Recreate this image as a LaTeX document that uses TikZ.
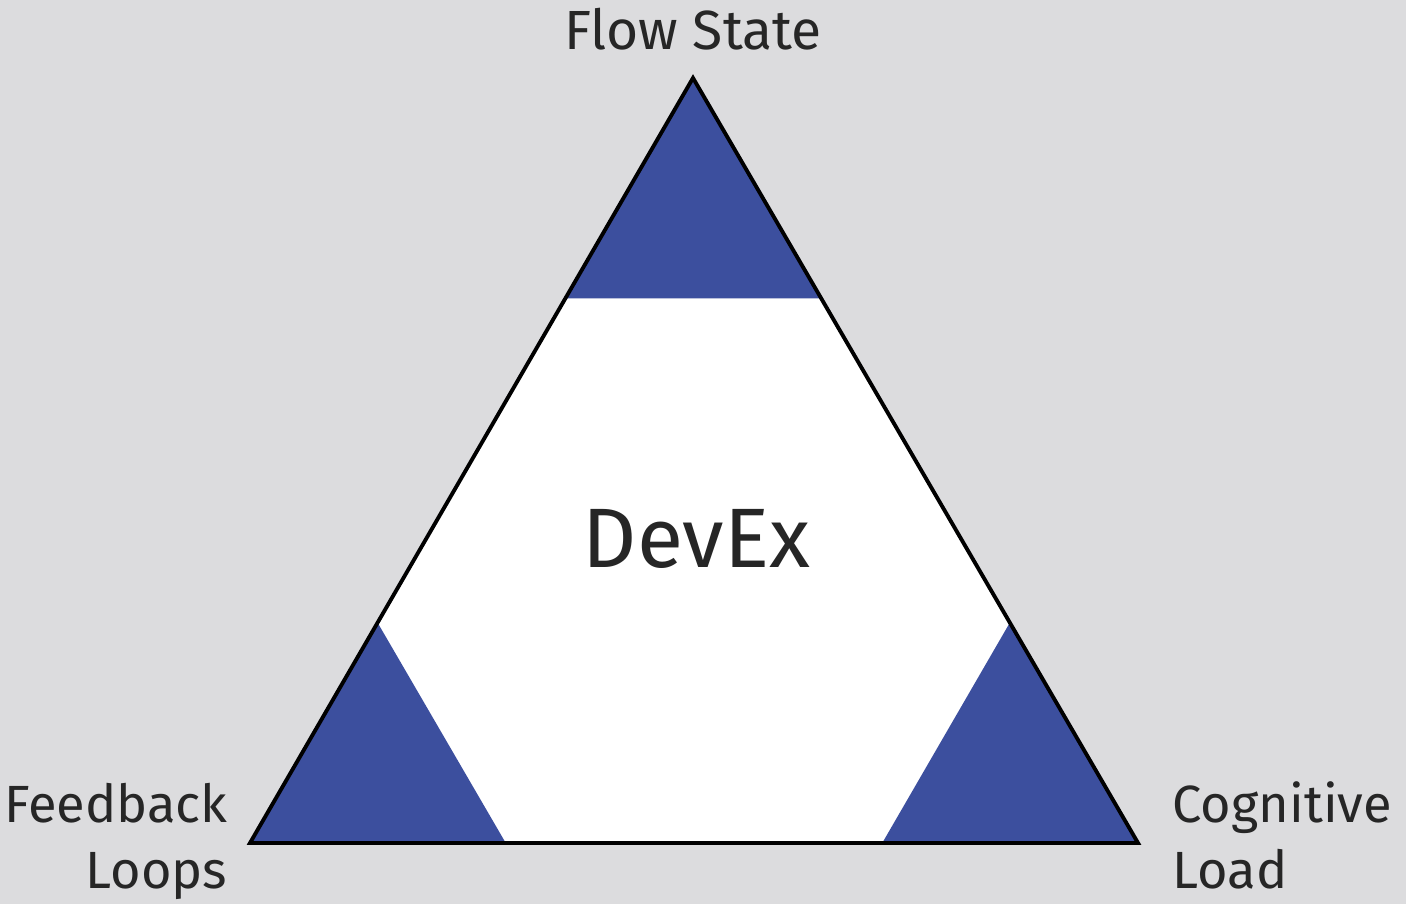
\documentclass[tikz,border=0pt]{standalone}
\usepackage{fontspec}
\setmainfont{Fira Sans}
\usetikzlibrary{calc,positioning}
\usepackage{xcolor}
\definecolor{devblue}{HTML}{3C4F9E}
\definecolor{devgray}{HTML}{DCDCDE}
\definecolor{devtext}{HTML}{262626}

\begin{document}
\begin{tikzpicture}[scale=1,
    vertex/.style={font=\fontsize{15.7}{18.8}\selectfont, text=devtext, inner sep=0pt},
    corner/.style={fill=devblue}]
  % background and the three corners of the triangle
  \fill[devgray] (0,0) rectangle (14.06,9.04);
  \useasboundingbox (0,0) rectangle (14.06,9.04);
  \coordinate (top) at (6.93,8.26);
  \coordinate (bl) at (2.50,0.61);
  \coordinate (br) at (11.38,0.61);
  \def\cut{0.288}
  \fill[white] (top) -- (bl) -- (br) -- cycle;
  \foreach \c/\a/\b in {top/bl/br, bl/top/br, br/top/bl}{
    \fill[corner] (\c) -- ($(\c)!\cut!(\a)$) -- ($(\c)!\cut!(\b)$) -- cycle;
  }
  \draw[line width=1.1pt, line join=miter] (top) -- (bl) -- (br) -- cycle;
  % labels
  \node[vertex, anchor=base] (flow) at (6.93,8.54) {Flow State};
  \node[vertex, anchor=base, font=\fontsize{24}{28}\selectfont] (devex) at (6.965,3.36) {DevEx};
  \node[vertex, anchor=base east, align=right, font=\fontsize{14.9}{18.8}\selectfont] (feedback) at (2.28,0.15) {Feedback\\Loops};
  \node[vertex, anchor=base west, align=left, font=\fontsize{14.9}{18.8}\selectfont] (cognitive) at (11.72,0.15) {Cognitive\\Load};
\end{tikzpicture}
\end{document}
